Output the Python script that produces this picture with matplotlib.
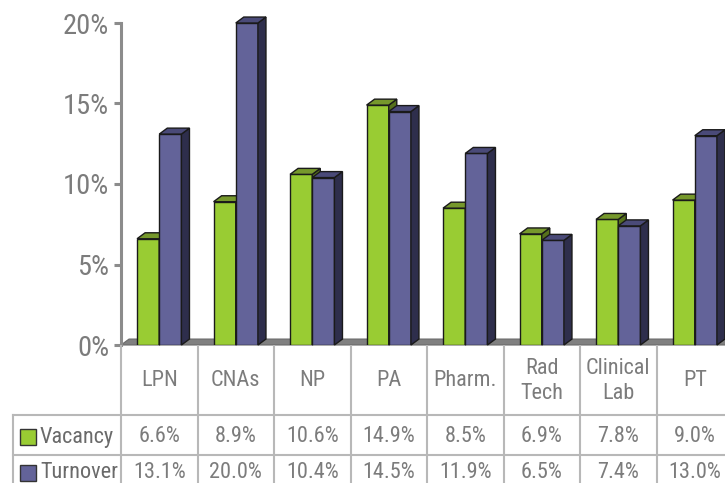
import matplotlib.pyplot as plt
from matplotlib.patches import Polygon, Rectangle
from matplotlib import font_manager as fm
import numpy as np

categories = ['LPN', 'CNAs', 'NP', 'PA', 'Pharm.', 'Rad\nTech', 'Clinical\nLab', 'PT']
vacancy = [6.6, 8.9, 10.6, 14.9, 8.5, 6.9, 7.8, 9.0]
turnover = [13.1, 20.0, 10.4, 14.5, 11.9, 6.5, 7.4, 13.0]
series_names = ['Vacancy', 'Turnover']
yticks = [0, 5, 10, 15, 20]

# colours: front, top, side
green = ('#99cc33', '#76982c', '#56711c')
blue = ('#636399', '#4a4a78', '#2e2e4c')
grey_txt = '#7c7c7c'
grid_col = '#b8b8b8'

# pick a condensed face if one is there, else shrink the default one
have = {f.name for f in fm.fontManager.ttflist}
font, scale = 'DejaVu Sans', 0.78
for cand in ['Roboto Condensed', 'Oswald', 'Archivo Narrow', 'PT Sans Narrow', 'Liberation Sans Narrow']:
    if cand in have:
        font, scale = cand, 1.0
        break
fam = [font, 'DejaVu Sans']

W, H = 725, 483
fig = plt.figure(figsize=(W / 100, H / 100), dpi=100)
col_px = 76.5
ax = fig.add_axes([121 / W, 138 / H, 8 * col_px / W, 322 / H])
ax.set_xlim(0, 8)
ax.set_ylim(0, 20)

dx, dy = 0.105, 0.37  # fake depth
bw = 0.29


def bar3d(x0, vals, cols):
    bars = ax.bar(x0, vals, width=bw, align='edge', color=cols[0],
                  edgecolor='#1a1a1a', linewidth=1, zorder=3)
    for b in bars:
        l, h = b.get_x(), b.get_height()
        r = l + bw
        top = Polygon([(l, h), (r, h), (r + dx, h + dy), (l + dx, h + dy)],
                      closed=True, fc=cols[1], ec='#1a1a1a', lw=1, zorder=3, clip_on=False)
        side = Polygon([(r, 0), (r + dx, dy), (r + dx, h + dy), (r, h)],
                       closed=True, fc=cols[2], ec='#1a1a1a', lw=1, zorder=3, clip_on=False)
        ax.add_patch(side)
        ax.add_patch(top)


# floor
ax.add_patch(Polygon([(0, 0), (8, 0), (8 + dx, dy), (dx, dy)], closed=True,
                     fc='#808080', ec='#6a6a6a', lw=0.8, zorder=2, clip_on=False))

for i in range(len(categories)):
    bar3d([i + 0.21], [vacancy[i]], green)
    bar3d([i + 0.5], [turnover[i]], blue)

for s in ['top', 'right', 'bottom']:
    ax.spines[s].set_visible(False)
ax.spines['left'].set_color('#8c8c8c')
ax.spines['left'].set_linewidth(2.2)
ax.set_xticks([])
ax.set_yticks(yticks)
ax.set_yticklabels([f'{t}%' for t in yticks], color=grey_txt, fontsize=20.5 * scale, family=fam)
ax.tick_params(axis='y', length=5, width=2.2, color='#8c8c8c', pad=3.5)

# data table underneath
tab = fig.add_axes([0, 0, 1, 138 / H])
tab.set_xlim(-121 / col_px, (W - 121) / col_px)
tab.set_ylim(138, 0)
tab.axis('off')

left = -108 / col_px
for k in range(9):
    tab.plot([k, k], [0, 138], color=grid_col, lw=1.5)
tab.plot([left, left], [70, 138], color=grid_col, lw=1.5)
for yy in [70, 110]:
    tab.plot([left, 8], [yy, yy], color=grid_col, lw=1.5)

fs = 16 * scale
for i, c in enumerate(categories):
    tab.text(i + 0.5, 36, c, ha='center', va='center', fontsize=fs,
             color=grey_txt, family=fam, linespacing=1.3)
    tab.text(i + 0.5, 92, f'{vacancy[i]:.1f}%', ha='center', va='center',
             fontsize=fs, color=grey_txt, family=fam)
    tab.text(i + 0.5, 128, f'{turnover[i]:.1f}%', ha='center', va='center',
             fontsize=fs, color=grey_txt, family=fam)

for name, cols, yc in zip(series_names, [green, blue], [92, 128]):
    tab.add_patch(Rectangle(((20 - 121) / col_px, yc - 8), 16 / col_px, 16,
                            fc=cols[0], ec='#333333', lw=1))
    tab.text((40 - 121) / col_px, yc, name, ha='left', va='center',
             fontsize=fs, color='#6a6a6a', family=fam)

fig.savefig('out.png', dpi=100)
